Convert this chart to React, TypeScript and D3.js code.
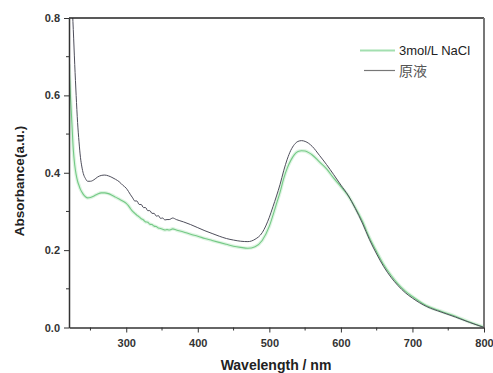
import React, { useEffect, useRef } from 'react';
import * as d3 from 'd3';

// wavelength grid (nm) shared by both spectra
const wavelength = [
  220, 222, 224, 226, 228, 230, 232, 234, 236, 238, 240, 243, 246, 250, 255, 260, 265, 270, 275, 280,
  285, 290, 295, 300, 303, 306, 309, 312, 315, 318, 321, 324, 327, 330, 333, 336, 339, 342, 345, 348,
  351, 354, 357, 360, 365, 370, 380, 390, 400, 410, 420, 430, 440, 450, 460, 470, 480, 490, 500, 505,
  510, 515, 520, 525, 530, 535, 540, 545, 550, 555, 560, 570, 580, 590, 600, 610, 620, 630, 640, 650,
  660, 670, 680, 690, 700, 720, 740, 760, 780, 800,
];

// 原液
const absRaw = [
  0.98, 0.92, 0.85, 0.77, 0.68, 0.6, 0.53, 0.48, 0.44, 0.415, 0.398, 0.385, 0.378, 0.378, 0.382, 0.389, 0.393, 0.394, 0.392, 0.388,
  0.383, 0.377, 0.368, 0.36, 0.352, 0.343, 0.335, 0.327, 0.327, 0.318, 0.318, 0.31, 0.31, 0.302, 0.302, 0.295, 0.295, 0.288, 0.289, 0.282,
  0.283, 0.278, 0.279, 0.279, 0.283, 0.279, 0.273, 0.266, 0.258, 0.25, 0.243, 0.236, 0.23, 0.226, 0.223, 0.222, 0.228, 0.245, 0.285, 0.312,
  0.34, 0.37, 0.405, 0.435, 0.458, 0.473, 0.481, 0.483, 0.481, 0.476, 0.468, 0.445, 0.421, 0.395, 0.368, 0.342, 0.308, 0.27, 0.227, 0.19,
  0.157, 0.13, 0.108, 0.09, 0.076, 0.054, 0.04, 0.027, 0.013, 0.0,
];

// 3mol/L NaCl
const absNaCl = [
  0.68, 0.6, 0.53, 0.46, 0.42, 0.395, 0.378, 0.367, 0.357, 0.35, 0.344, 0.338, 0.335, 0.336, 0.34, 0.345, 0.348, 0.348, 0.346, 0.342,
  0.337, 0.332, 0.327, 0.321, 0.315, 0.307, 0.3, 0.295, 0.29, 0.286, 0.281, 0.278, 0.273, 0.272, 0.267, 0.266, 0.262, 0.261, 0.257, 0.256,
  0.254, 0.252, 0.253, 0.252, 0.255, 0.252, 0.247, 0.241, 0.236, 0.23, 0.225, 0.22, 0.215, 0.21, 0.207, 0.205, 0.209, 0.225, 0.262, 0.29,
  0.32, 0.35, 0.385, 0.412, 0.432, 0.447, 0.455, 0.457, 0.456, 0.452, 0.446, 0.428, 0.41, 0.386, 0.364, 0.341, 0.31, 0.275, 0.232, 0.196,
  0.162, 0.135, 0.112, 0.094, 0.08, 0.056, 0.042, 0.029, 0.014, 0.001,
];

const xTicks = [300, 400, 500, 600, 700, 800];
const xMinorTicks = [250, 350, 450, 550, 650, 750];
const yTicks = [0, 0.2, 0.4, 0.6, 0.8];
const yMinorTicks = [0.1, 0.3, 0.5, 0.7];

const App = () => {
  const chartRef = useRef<SVGSVGElement>(null);

  useEffect(() => {
    const width = 493;
    const height = 373;
    const margin = { top: 18, right: 9, bottom: 45.5, left: 69 };
    const chartWidth = width - margin.left - margin.right;
    const chartHeight = height - margin.top - margin.bottom;

    const svg = d3.select(chartRef.current);
    svg.selectAll('*').remove();

    const xScale = d3.scaleLinear().domain([220, 800]).range([0, chartWidth]);
    const yScale = d3.scaleLinear().domain([0, 0.8]).range([chartHeight, 0]);

    const chart = svg.append('g').attr('transform', `translate(${margin.left}, ${margin.top})`);

    chart.append('clipPath').attr('id', 'plot-clip')
      .append('rect').attr('width', chartWidth).attr('height', chartHeight);

    const line = d3.line<number>()
      .x((d, i) => xScale(wavelength[i]))
      .y((d) => yScale(d))
      .curve(d3.curveMonotoneX);

    const plot = chart.append('g').attr('clip-path', 'url(#plot-clip)');

    // green halo + line
    plot.append('path').attr('d', line(absNaCl)).attr('fill', 'none')
      .attr('stroke', '#d6f1db').attr('stroke-width', 3.5).attr('opacity', 0.8);
    plot.append('path').attr('d', line(absNaCl)).attr('fill', 'none')
      .attr('stroke', '#74c985').attr('stroke-width', 1.1);
    plot.append('path').attr('d', line(absRaw)).attr('fill', 'none')
      .attr('stroke', '#4d4d5a').attr('stroke-width', 1);

    // frame: top and right
    chart.append('line').attr('x1', 0).attr('x2', chartWidth).attr('y1', 0).attr('y2', 0)
      .attr('stroke', '#222').attr('stroke-width', 1.5);
    chart.append('line').attr('x1', chartWidth).attr('x2', chartWidth).attr('y1', 0).attr('y2', chartHeight)
      .attr('stroke', '#777').attr('stroke-width', 2);

    // x axis
    const xAxis = chart.append('g').attr('transform', `translate(0, ${chartHeight})`);
    xAxis.call(d3.axisBottom(xScale).tickValues(xTicks).tickSize(5).tickSizeOuter(0).tickFormat(d3.format('d')));
    xAxis.append('g').selectAll('line').data(xMinorTicks).enter().append('line')
      .attr('x1', (d) => xScale(d)).attr('x2', (d) => xScale(d)).attr('y1', 0).attr('y2', 3)
      .attr('stroke', '#333');
    xAxis.select('.domain').attr('stroke', '#333').attr('stroke-width', 1.5);
    xAxis.selectAll('.tick line').attr('stroke', '#333');
    xAxis.selectAll('text').attr('font-family', 'Arial, "Liberation Sans", sans-serif')
      .attr('font-weight', 'bold').attr('font-size', 11).attr('fill', '#333').attr('dy', '1.05em');

    // y axis
    const yAxis = chart.append('g');
    yAxis.call(d3.axisLeft(yScale).tickValues(yTicks).tickSize(5).tickSizeOuter(0).tickFormat(d3.format('.1f')));
    yAxis.append('g').selectAll('line').data(yMinorTicks).enter().append('line')
      .attr('x1', 0).attr('x2', -3).attr('y1', (d) => yScale(d)).attr('y2', (d) => yScale(d))
      .attr('stroke', '#333');
    yAxis.select('.domain').attr('stroke', '#333').attr('stroke-width', 1.5);
    yAxis.selectAll('.tick line').attr('stroke', '#333');
    yAxis.selectAll('text').attr('font-family', 'Arial, "Liberation Sans", sans-serif')
      .attr('font-weight', 'bold').attr('font-size', 11).attr('fill', '#333').attr('x', -9);

    // axis titles
    svg.append('text').attr('x', 276).attr('y', 370).attr('text-anchor', 'middle')
      .attr('font-family', 'Arial, "Liberation Sans", sans-serif').attr('font-weight', 'bold')
      .attr('font-size', 14).attr('fill', '#222').text('Wavelength / nm');
    svg.append('text').attr('transform', 'translate(24, 181) rotate(-90)').attr('text-anchor', 'middle')
      .attr('font-family', 'Arial, "Liberation Sans", sans-serif').attr('font-weight', 'bold')
      .attr('font-size', 13.5).attr('fill', '#222').text('Absorbance(a.u.)');

    // legend
    const legend = svg.append('g');
    legend.append('line').attr('x1', 360).attr('x2', 395).attr('y1', 50.5).attr('y2', 50.5)
      .attr('stroke', '#a3dfb0').attr('stroke-width', 2);
    legend.append('text').attr('x', 399).attr('y', 55).attr('font-family', 'Arial, "Liberation Sans", sans-serif')
      .attr('font-size', 13).attr('fill', '#222').text('3mol/L NaCl');
    legend.append('line').attr('x1', 364).attr('x2', 395).attr('y1', 70.5).attr('y2', 70.5)
      .attr('stroke', '#777').attr('stroke-width', 1.2);
    legend.append('text').attr('x', 399).attr('y', 76).attr('font-family', '"Noto Sans CJK SC", sans-serif')
      .attr('font-size', 14).attr('fill', '#555').text('原液');
  }, []);

  return (
    <svg
      ref={chartRef}
      width={493}
      height={373}
      style={{ position: 'absolute', left: 0, top: 0, background: '#fff' }}
    />
  );
};

export default App;
